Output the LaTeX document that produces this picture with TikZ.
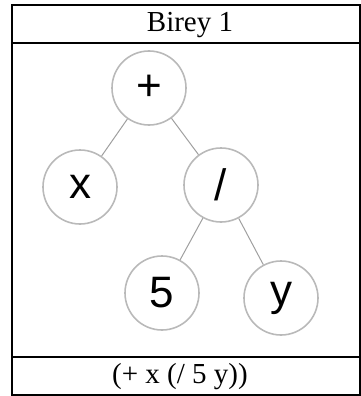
\documentclass[tikz,border=0pt]{standalone}
\usepackage{fontspec}
\setmainfont{Liberation Serif}
\newfontfamily\labelfont{Liberation Sans}
\tikzset{
  leaf/.style={circle, draw=gray!55, line width=1.6pt, minimum size=74pt, inner sep=0pt,
    font=\labelfont\fontsize{44}{44}\selectfont},
  branch/.style={draw=gray!75, line width=1pt}
}
\begin{document}
\begin{tikzpicture}[x=1pt,y=1pt]
	\useasboundingbox (0,0) rectangle (361,-396);

	% frame of the table
	\draw[line width=1.6pt] (12,-5) rectangle (360,-395);
	\draw[line width=1.6pt] (12,-43) -- (360,-43);
	\draw[line width=1.6pt] (12,-357) -- (360,-357);

	\node[font=\fontsize{29}{29}\selectfont] (title) at (190,-25) {Birey 1};
	\node[font=\fontsize{29}{29}\selectfont] (expr) at (180,-377) {(+ x (/ 5 y))};

% 1. the tree nodes
	\node[leaf] (plus) at (149,-88) {+};
	\node[leaf] (x) at (80,-187) {x};
	\node[leaf] (div) at (221,-185) {/};
	\node[leaf] (five) at (162,-293) {5};
	\node[leaf] (y) at (281,-298) {y};

% 2. the branches
	\foreach \a/\b in {plus/x, plus/div, div/five, div/y} {
		\draw[branch] (\a) -- (\b);
	}
\end{tikzpicture}
\end{document}
